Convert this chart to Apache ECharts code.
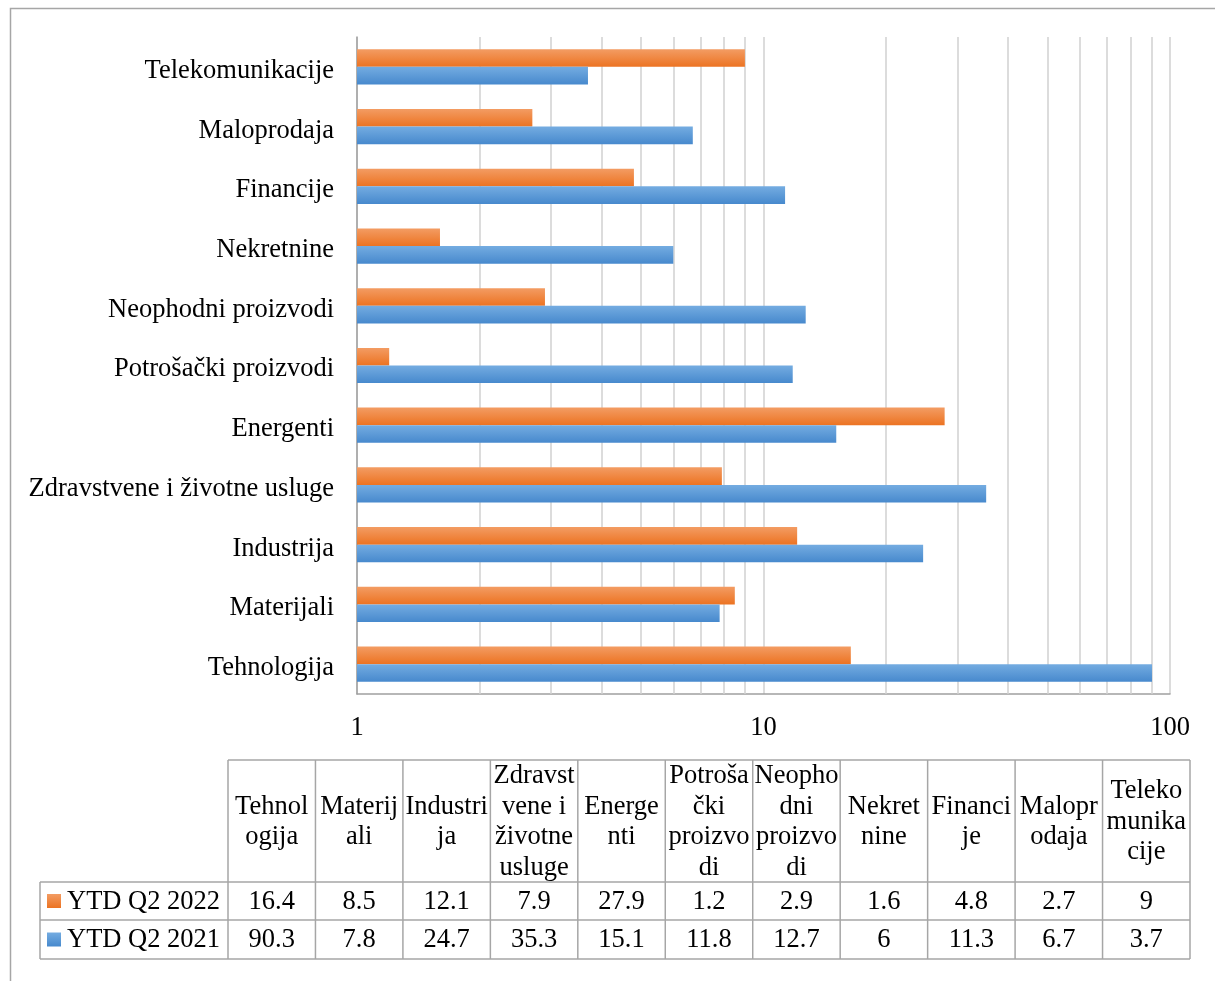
<!DOCTYPE html>
<html>
<head>
<meta charset="utf-8">
<script src="https://cdn.jsdelivr.net/npm/echarts@6/dist/echarts.min.js"></script>
<style>
html, body {margin: 0; padding: 0; background: #fff;}
#main {width: 1215px; height: 981px;}
</style>
</head>
<body>
<div id="main"></div>
<script>
const categories = ['Tehnologija', 'Materijali', 'Industrija', 'Zdravstvene i životne usluge', 'Energenti',
    'Potrošački proizvodi', 'Neophodni proizvodi', 'Nekretnine', 'Financije', 'Maloprodaja', 'Telekomunikacije'];
const tableHeaders = ['Tehnol\nogija', 'Materij\nali', 'Industri\nja', 'Zdravst\nvene i\nživotne\nusluge', 'Energe\nnti',
    'Potroša\nčki\nproizvo\ndi', 'Neopho\ndni\nproizvo\ndi', 'Nekret\nnine', 'Financi\nje', 'Malopr\nodaja', 'Teleko\nmunika\ncije'];
const seriesNames = ['YTD Q2 2022', 'YTD Q2 2021'];
const values2022 = [16.4, 8.5, 12.1, 7.9, 27.9, 1.2, 2.9, 1.6, 4.8, 2.7, 9];
const values2021 = [90.3, 7.8, 24.7, 35.3, 15.1, 11.8, 12.7, 6, 11.3, 6.7, 3.7];
const axisTicks = [1, 10, 100];
const minorGrid = [2, 3, 4, 5, 6, 7, 8, 9, 20, 30, 40, 50, 60, 70, 80, 90];

const FONT = '"Liberation Serif", "Times New Roman", serif';
const FS = 26.5;
const orangeGrad = new echarts.graphic.LinearGradient(0, 0, 0, 1, [
    {offset: 0, color: '#F39C63'}, {offset: 1, color: '#EC7322'}]);
const blueGrad = new echarts.graphic.LinearGradient(0, 0, 0, 1, [
    {offset: 0, color: '#74ACE1'}, {offset: 1, color: '#4789CD'}]);

// data table under the chart
const tbl = {left: 40, first: 228, right: 1190, top: 760, head: 882, r1: 920, r2: 959};
const colW = (tbl.right - tbl.first) / categories.length;
const lineStyle = {stroke: '#a6a6a6', lineWidth: 1.5};
const table = [];
const hline = (x1, x2, y) => table.push({type: 'line', shape: {x1, y1: y, x2, y2: y}, style: lineStyle});
const vline = (x, y1, y2) => table.push({type: 'line', shape: {x1: x, y1, x2: x, y2}, style: lineStyle});
hline(tbl.first, tbl.right, tbl.top);
hline(tbl.left, tbl.right, tbl.head);
hline(tbl.left, tbl.right, tbl.r1);
hline(tbl.left, tbl.right, tbl.r2);
vline(tbl.left, tbl.head, tbl.r2);
for (let i = 0; i <= categories.length; i++) vline(tbl.first + i * colW, tbl.top, tbl.r2);
const txt = (text, x, y, align) => table.push({
    type: 'text', x, y,
    style: {text, fill: '#000', fontSize: FS, fontFamily: FONT, align: align || 'center',
        verticalAlign: 'middle', lineHeight: 30.5}
});
tableHeaders.forEach((h, i) => txt(h, tbl.first + (i + 0.5) * colW, (tbl.top + tbl.head) / 2 + 1));
const rows = [[values2022, orangeGrad, (tbl.head + tbl.r1) / 2], [values2021, blueGrad, (tbl.r1 + tbl.r2) / 2]];
rows.forEach(([vals, grad, y], r) => {
    table.push({type: 'rect', shape: {x: 47, y: y - 7, width: 14, height: 14}, style: {fill: grad}});
    txt(seriesNames[r], 67, y + 1, 'left');
    vals.forEach((v, i) => txt(String(v), tbl.first + (i + 0.5) * colW, y + 1));
});

const chart = echarts.init(document.getElementById('main'));
chart.setOption({
    animation: false,
    backgroundColor: '#fff',
    grid: {left: 357, right: 45, top: 37, bottom: 287, containLabel: false},
    xAxis: {
        type: 'log',
        logBase: 10,
        min: axisTicks[0],
        max: axisTicks[axisTicks.length - 1],
        axisLine: {show: true, lineStyle: {color: '#a0a0a0', width: 1.5}},
        axisTick: {show: false},
        splitLine: {show: true, lineStyle: {color: '#d0d0d0', width: 1.5}},
        axisLabel: {color: '#000', fontSize: FS, fontFamily: FONT, margin: 21}
    },
    yAxis: {
        type: 'category',
        data: categories,
        axisLine: {show: true, lineStyle: {color: '#a0a0a0', width: 1.5}},
        axisTick: {show: false},
        axisLabel: {
            margin: 23,
            formatter: v => '{c|' + v + '}',
            rich: {c: {color: '#000', fontSize: FS, fontFamily: FONT, padding: [8, 0, 0, 0]}}
        }
    },
    series: [{
        name: seriesNames[0],
        type: 'bar',
        data: values2022,
        barGap: '0%',
        barCategoryGap: '41%',
        itemStyle: {color: orangeGrad},
        z: 3,
        markLine: {
            silent: true,
            z: 1,
            symbol: ['none', 'none'],
            label: {show: false},
            lineStyle: {color: '#d0d0d0', type: 'solid', width: 1.5},
            data: minorGrid.map(v => ({xAxis: v}))
        }
    }, {
        name: seriesNames[1],
        type: 'bar',
        data: values2021,
        barGap: '0%',
        barCategoryGap: '41%',
        itemStyle: {color: blueGrad},
        z: 3
    }],
    graphic: [{
        type: 'rect',
        shape: {x: 10.5, y: 8.5, width: 1240, height: 1010},
        style: {fill: 'none', stroke: '#a6a6a6', lineWidth: 1.5}
    }, {
        type: 'group',
        children: table
    }]
});
</script>
</body>
</html>
